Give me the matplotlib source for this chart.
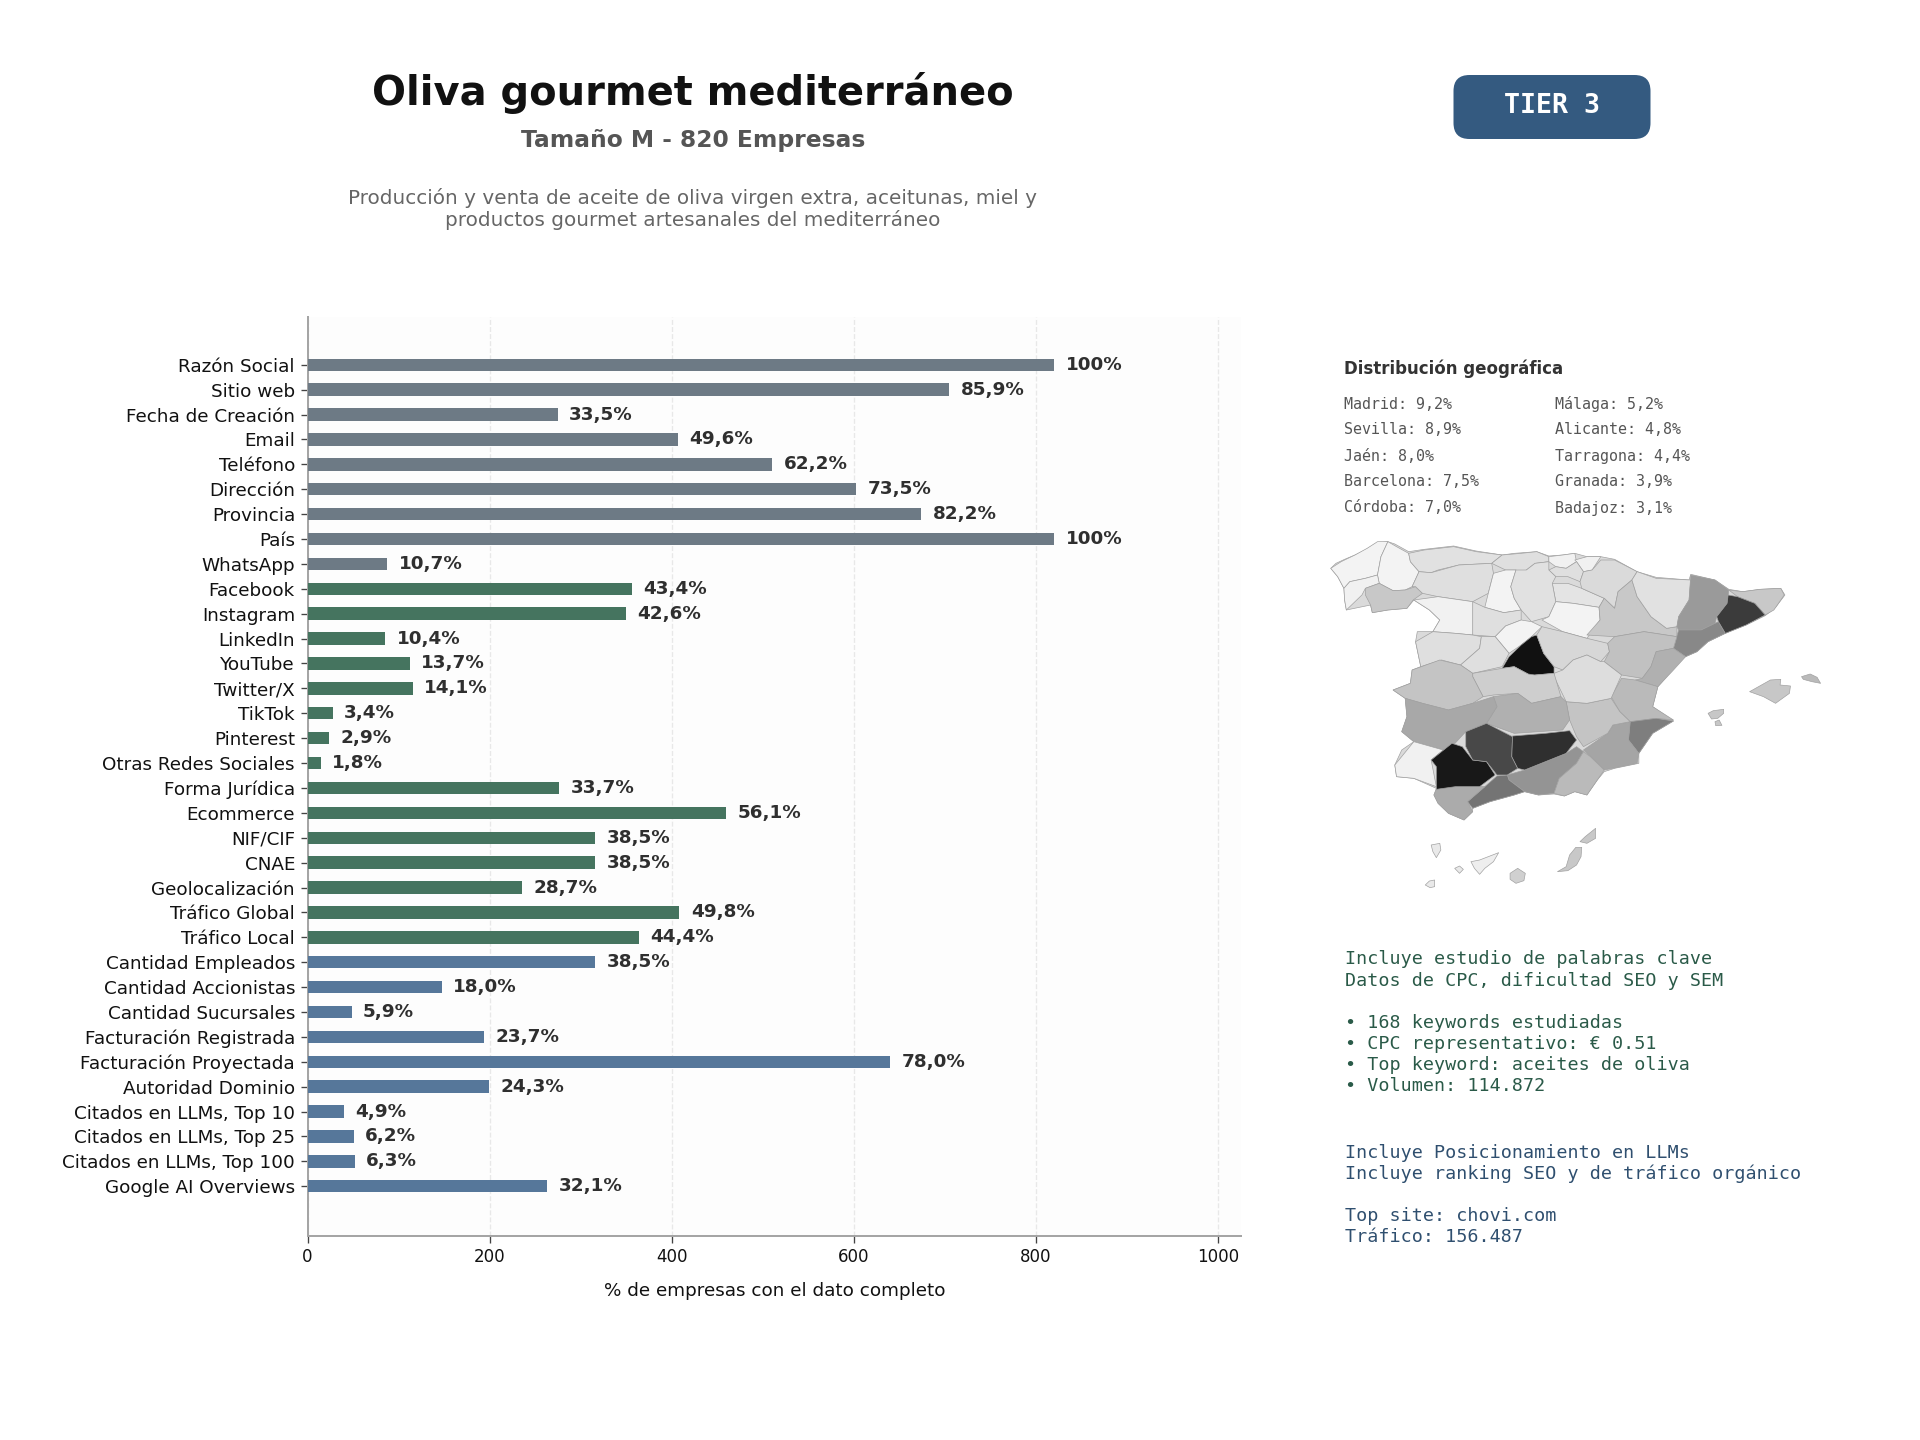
import matplotlib
matplotlib.use("Agg")
import matplotlib.pyplot as plt
from matplotlib.collections import PolyCollection
from matplotlib.colors import LinearSegmentedColormap, Normalize
from matplotlib.patches import FancyBboxPatch, Polygon

W, H = 1920, 1440
TOTAL = 820

labels = ["Razón Social","Sitio web","Fecha de Creación","Email","Teléfono","Dirección","Provincia","País","WhatsApp",
          "Facebook","Instagram","LinkedIn","YouTube","Twitter/X","TikTok","Pinterest","Otras Redes Sociales",
          "Forma Jurídica","Ecommerce","NIF/CIF","CNAE","Geolocalización","Tráfico Global","Tráfico Local",
          "Cantidad Empleados","Cantidad Accionistas","Cantidad Sucursales","Facturación Registrada","Facturación Proyectada",
          "Autoridad Dominio","Citados en LLMs, Top 10","Citados en LLMs, Top 25","Citados en LLMs, Top 100","Google AI Overviews"]
pct = [100,85.9,33.5,49.6,62.2,73.5,82.2,100,10.7,
       43.4,42.6,10.4,13.7,14.1,3.4,2.9,1.8,
       33.7,56.1,38.5,38.5,28.7,49.8,44.4,
       38.5,18.0,5.9,23.7,78.0,24.3,4.9,6.2,6.3,32.1]
group_sizes = [9, 15, 10]
group_colors = ["#6d7a85", "#45745f", "#56779a"]
xticks = [0, 200, 400, 600, 800, 1000]

geo_left = ["Madrid: 9,2%","Sevilla: 8,9%","Jaén: 8,0%","Barcelona: 7,5%","Córdoba: 7,0%"]
geo_right = ["Málaga: 5,2%","Alicante: 4,8%","Tarragona: 4,4%","Granada: 3,9%","Badajoz: 3,1%"]
green_lines = ["Incluye estudio de palabras clave","Datos de CPC, dificultad SEO y SEM","",
               "• 168 keywords estudiadas","• CPC representativo: € 0.51","• Top keyword: aceites de oliva","• Volumen: 114.872"]
blue_lines = ["Incluye Posicionamiento en LLMs","Incluye ranking SEO y de tráfico orgánico","",
              "Top site: chovi.com","Tráfico: 156.487"]

mainland = [(60,145),(75,130),(100,118),(130,105),(160,90),(190,70),(225,65),(245,72),(285,95),(330,88),(415,78),(480,93),(555,105),(590,100),(655,95),(690,108),(730,105),(765,100),(800,110),(840,110),(880,118),(945,155),(1000,172),(1095,180),(1100,163),(1170,180),(1210,208),(1250,215),(1300,208),(1360,205),(1372,225),(1345,262),(1315,287),(1260,315),(1200,340),(1150,365),(1118,395),(1085,410),(1060,425),(1030,470),(1005,500),(990,560),(1050,603),(990,640),(950,700),(950,730),(880,745),(850,755),(830,780),(800,825),(765,815),(735,828),(705,822),(660,825),(620,815),(590,825),(520,845),(470,865),(470,875),(445,900),(400,880),(370,850),(358,825),(365,805),(300,775),(250,770),(245,735),(265,690),(300,665),(265,635),(280,590),(275,535),(240,510),(290,490),(295,450),(320,440),(305,365),(310,335),(355,335),(375,300),(345,270),(300,240),(280,265),(225,270),(180,278),(175,255),(105,270),(100,240),(98,205),(80,170)]

# province: (share %, outline)
provinces = {
 "A Coruña": (0.1,[(60,145),(90,125),(130,105),(165,85),(195,65),(225,65),(205,110),(195,165),(160,175),(115,185),(98,205),(80,170)]),
 "Lugo": (0.1,[(225,65),(250,80),(285,100),(290,125),(315,155),(295,200),(275,210),(240,212),(200,190),(195,165),(205,110)]),
 "Pontevedra": (0.2,[(98,205),(115,185),(160,175),(195,165),(200,190),(160,205),(150,225),(105,270),(100,240)]),
 "Ourense": (1.8,[(160,205),(200,190),(240,212),(275,210),(305,200),(325,220),(298,240),(280,265),(225,270),(180,278),(175,255),(160,225)]),
 "Asturias": (0.8,[(285,100),(330,90),(415,80),(480,95),(555,105),(525,130),(430,135),(370,150),(350,158),(315,155),(290,125)]),
 "Cantabria": (0.9,[(555,105),(610,100),(655,95),(690,110),(690,125),(650,130),(625,150),(610,170),(595,150),(565,150),(525,130)]),
 "Bizkaia": (0.2,[(690,110),(730,105),(765,100),(770,125),(740,145),(710,140),(690,125)]),
 "Gipuzkoa": (0.2,[(765,120),(800,110),(840,110),(815,150),(790,155),(770,125)]),
 "Álava": (0.9,[(690,150),(710,140),(740,145),(770,125),(790,155),(780,185),(745,170),(710,170)]),
 "La Rioja": (0.7,[(700,190),(745,190),(785,205),(850,235),(835,262),(760,250),(710,245)]),
 "Navarra": (1.1,[(815,150),(840,120),(880,120),(945,155),(930,180),(890,215),(880,265),(850,235),(785,205),(780,185),(790,155)]),
 "León": (0.9,[(295,200),(315,155),(350,158),(430,135),(525,130),(530,160),(515,220),(470,245),(370,230),(325,220),(305,200)]),
 "Palencia": (0.1,[(530,160),(565,150),(595,150),(580,200),(590,235),(610,270),(560,278),(505,262),(515,220)]),
 "Burgos": (0.8,[(595,150),(625,150),(650,130),(690,125),(690,150),(710,170),(700,190),(710,245),(690,290),(640,305),(610,270),(590,235),(580,200)]),
 "Valladolid": (0.9,[(470,245),(505,262),(560,278),(610,270),(610,300),(565,318),(535,350),(470,345),(470,280)]),
 "Zamora": (0.2,[(300,240),(370,230),(470,245),(470,280),(470,345),(420,340),(355,335),(375,300),(345,270)]),
 "Soria": (0.1,[(710,245),(760,250),(835,262),(838,300),(800,355),(730,335),(670,300),(690,290)]),
 "Segovia": (0.1,[(565,318),(610,300),(640,305),(670,320),(640,350),(610,375),(575,400),(535,350)]),
 "Salamanca": (0.9,[(355,335),(420,340),(470,345),(495,350),(490,385),(435,435),(380,420),(320,440),(305,365)]),
 "Ávila": (0.9,[(495,350),(535,350),(575,400),(555,440),(470,460),(435,435),(490,385)]),
 "Madrid": (9.2,[(610,375),(640,350),(655,345),(675,400),(705,440),(705,460),(650,465),(625,480),(630,462),(590,440),(555,445),(575,410)]),
 "Guadalajara": (1.2,[(670,320),(730,335),(800,355),(860,370),(865,395),(840,425),(800,405),(760,420),(730,450),(705,440),(675,400),(655,345)]),
 "Zaragoza": (1.8,[(880,265),(890,215),(930,180),(945,230),(985,290),(1030,325),(1060,320),(1060,350),(965,335),(880,350),(800,345),(838,300),(835,262),(850,235)]),
 "Huesca": (0.8,[(945,155),(1000,175),(1100,180),(1095,240),(1065,290),(1060,320),(1030,325),(985,290),(945,230),(930,180)]),
 "Lleida": (3.7,[(1100,165),(1170,180),(1210,210),(1205,250),(1175,290),(1170,310),(1130,330),(1065,330),(1060,320),(1065,290),(1095,240)]),
 "Girona": (1.8,[(1210,210),(1250,215),(1300,208),(1360,205),(1370,225),(1340,270),(1315,285),(1285,250),(1235,230)]),
 "Tarragona": (4.4,[(1065,330),(1130,330),(1170,310),(1180,305),(1200,340),(1150,365),(1118,395),(1085,410),(1050,385)]),
 "Teruel": (2.1,[(880,350),(965,335),(1060,350),(1050,385),(1000,395),(985,440),(960,475),(900,465),(850,425),(865,395),(860,370)]),
 "Castellón": (2.8,[(1000,395),(1050,385),(1085,410),(1050,450),(1005,500),(940,480),(960,475),(985,440)]),
 "Valencia": (2.4,[(900,475),(940,480),(1005,500),(990,560),(1050,600),(1000,595),(925,605),(895,575),(870,530)]),
 "Alicante": (4.8,[(925,605),(1000,595),(1050,603),(990,640),(950,700),(920,660)]),
 "Murcia": (3.2,[(875,615),(925,605),(920,660),(950,700),(945,730),(850,750),(810,710),(790,690),(860,640)]),
 "Albacete": (2.0,[(740,545),(800,550),(870,535),(895,575),(925,605),(875,615),(860,640),(790,680),(770,650),(750,600)]),
 "Cuenca": (1.0,[(730,450),(760,420),(800,405),(840,425),(850,425),(900,465),(870,535),(800,550),(740,545),(705,470),(705,460)]),
 "Toledo": (1.6,[(470,460),(555,445),(590,440),(630,462),(650,465),(705,460),(725,530),(640,550),(600,520),(530,525),(500,530),(470,470)]),
 "Ciudad Real": (2.8,[(530,530),(600,520),(640,550),(725,530),(740,545),(750,600),(730,630),(590,640),(510,610),(540,560)]),
 "Cáceres": (2.0,[(295,450),(375,420),(435,435),(470,460),(470,470),(500,530),(470,550),(400,570),(325,550),(275,535),(240,510),(290,490)]),
 "Badajoz": (3.1,[(275,535),(325,550),(400,570),(470,550),(530,530),(540,560),(510,610),(450,635),(410,680),(385,690),(300,665),(265,635),(280,590)]),
 "Huelva": (0.2,[(300,665),(385,690),(350,720),(365,800),(300,775),(250,770),(245,735)]),
 "Granada": (3.9,[(620,750),(680,725),(740,700),(770,680),(790,695),(770,730),(720,775),(705,820),(660,825),(620,815),(575,780),(570,765)]),
 "Almería": (2.4,[(790,695),(810,710),(850,750),(830,780),(800,825),(765,815),(735,828),(705,820),(720,775),(770,730)]),
 "Málaga": (5.2,[(540,768),(570,765),(575,780),(620,815),(590,825),(520,845),(470,865),(455,845),(505,800)]),
 "Cádiz": (3.0,[(365,808),(420,800),(490,800),(505,800),(455,845),(470,875),(445,900),(400,880),(370,850),(358,825)]),
 "Barcelona": (7.5,[(1208,225),(1235,230),(1285,250),(1315,285),(1260,315),(1200,340),(1180,305),(1175,290),(1205,250)]),
 "Sevilla": (8.9,[(410,670),(440,680),(470,720),(510,725),(535,765),(490,800),(420,800),(365,808),(365,740),(350,720)]),
 "Córdoba": (7.0,[(450,635),(510,610),(585,650),(583,710),(600,745),(570,765),(540,765),(510,725),(470,720),(450,680)]),
 "Jaén": (8.0,[(585,648),(680,640),(750,632),(770,660),(740,700),(680,725),(620,750),(600,745),(583,710)]),
 "Mallorca": (1.9,[(1270,515),(1330,480),(1360,478),(1358,495),(1388,498),(1385,520),(1345,550),(1310,530)]),
 "Menorca": (2.4,[(1420,470),(1445,462),(1465,472),(1475,490),(1450,485),(1425,478)]),
 "Ibiza": (1.9,[(1150,580),(1165,572),(1195,568),(1195,580),(1178,595),(1160,597)]),
 "Formentera": (1.9,[(1170,605),(1182,600),(1190,616),(1172,617)]),
 "Tenerife": (0.3,[(465,1025),(490,1020),(545,998),(530,1025),(505,1045),(490,1063),(475,1045)]),
 "Gran Canaria": (1.5,[(578,1060),(600,1045),(622,1060),(618,1082),(595,1090),(578,1078)]),
 "La Palma": (0.5,[(350,975),(375,970),(378,990),(365,1013),(355,995)]),
 "La Gomera": (0.5,[(418,1045),(432,1038),(443,1048),(432,1060)]),
 "El Hierro": (0.5,[(333,1095),(345,1083),(360,1080),(360,1100),(347,1103)]),
 "Fuerteventura": (1.8,[(715,1055),(740,1040),(750,1005),(768,982),(785,982),(783,1010),(770,1035),(745,1052)]),
 "Lanzarote": (1.8,[(780,965),(795,950),(825,925),(825,955),(800,970)]),
}
map_vmax = 9.2

fig = plt.figure(figsize=(16, 12), dpi=120, facecolor="white")

def px_axes(l, t, r, b):
    return fig.add_axes([l / W, 1 - b / H, (r - l) / W, (b - t) / H])

# ---- bars
ax = px_axes(307.5, 317, 1241, 1235.5)
ax.set_facecolor("#fdfdfd")
colors = [c for n, c in zip(group_sizes, group_colors) for _ in range(n)]
values = [p / 100 * TOTAL for p in pct]
ypos = list(range(len(labels)))
ax.barh(ypos, values, height=0.5, color=colors, zorder=3)
for y, v, p in zip(ypos, values, pct):
    s = "100%" if p == 100 else f"{p:.1f}%".replace(".", ",")
    ax.text(v + 12.5, y + 0.0, s, va="center", ha="left", fontsize=11, fontweight="bold", color="#2f2f2f", zorder=4)
ax.set_yticks(ypos)
ax.set_yticklabels(labels, fontsize=11, color="#111111")
ax.set_xticks(xticks)
ax.tick_params(axis="x", labelsize=10, color="#444444", length=4, width=0.8, labelcolor="#111111")
ax.tick_params(axis="y", color="#444444", length=4, width=0.8, pad=3.5)
ax.set_xlim(0, TOTAL * 1.25)
ax.set_ylim(34.98, -1.92)
ax.set_xlabel("% de empresas con el dato completo", fontsize=11, color="#111111", labelpad=9.5)
ax.grid(axis="x", color="#e8e8e8", linestyle="--", linewidth=0.8, zorder=0)
ax.set_axisbelow(True)
for side in ("top", "right"):
    ax.spines[side].set_visible(False)
for side in ("left", "bottom"):
    ax.spines[side].set_color("#a5a5a5")
    ax.spines[side].set_linewidth(1.2)

# ---- map
mx = px_axes(1310, 520, 1850, 900)
mx.add_patch(Polygon(mainland, closed=True, facecolor="#dadada", edgecolor="#a0a0a0", linewidth=0.4))
cmap = LinearSegmentedColormap.from_list("grey_map", ["#f5f5f5", "#111111"])
pc = PolyCollection([p[1] for p in provinces.values()], array=[p[0] for p in provinces.values()],
                    cmap=cmap, norm=Normalize(0, map_vmax), edgecolors="#a0a0a0", linewidths=0.4)
mx.add_collection(pc)
mx.set_xlim(0, 1560)
mx.set_ylim(1140, 0)
mx.axis("off")

# ---- overlay for text, in figure pixels
ov = fig.add_axes([0, 0, 1, 1], facecolor="none")
ov.set_xlim(0, W)
ov.set_ylim(H, 0)
ov.axis("off")

ov.text(693, 92.5, "Oliva gourmet mediterráneo", ha="center", va="center", fontsize=24, fontweight="bold", color="#111111")
ov.text(693, 141, "Tamaño M - 820 Empresas", ha="center", va="center", fontsize=14, fontweight="bold", color="#555555")
ov.text(693, 197.5, "Producción y venta de aceite de oliva virgen extra, aceitunas, miel y", ha="center", va="center", fontsize=12, color="#666666")
ov.text(693, 220, "productos gourmet artesanales del mediterráneo", ha="center", va="center", fontsize=12, color="#666666")

ov.add_patch(FancyBboxPatch((1465.5, 87), 173, 40, boxstyle="round,pad=0,rounding_size=0", linewidth=0, facecolor="#345a80"))
ov.patches[-1].set_boxstyle("round", pad=12, rounding_size=16)
ov.text(1552.5, 106, "TIER 3", ha="center", va="center", fontsize=16, fontweight="bold", family="DejaVu Sans Mono", color="white")

ov.text(1343.5, 369, "Distribución geográfica", ha="left", va="center", fontsize=10, fontweight="bold", color="#333333")
for y, a, b in zip([404.5, 430, 456.5, 482, 508], geo_left, geo_right):
    ov.text(1343.5, y, a, ha="left", va="center", fontsize=9, family="DejaVu Sans Mono", color="#555555")
    ov.text(1555, y, b, ha="left", va="center", fontsize=9, family="DejaVu Sans Mono", color="#555555")

for i, s in enumerate(green_lines):
    ov.text(1345, 959.5 + i * 21.1, s, ha="left", va="center", fontsize=11, family="DejaVu Sans Mono", color="#2a5a48")
for i, s in enumerate(blue_lines):
    ov.text(1345, 1153 + i * 21.1, s, ha="left", va="center", fontsize=11, family="DejaVu Sans Mono", color="#2f4f6f")

fig.savefig("out.png", dpi=120, facecolor="white")
